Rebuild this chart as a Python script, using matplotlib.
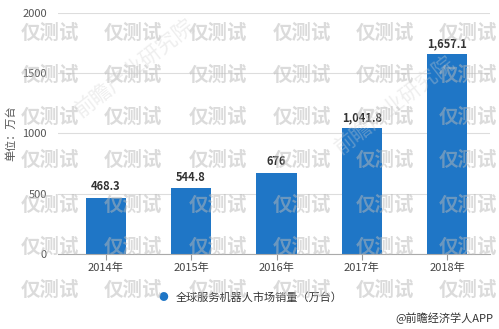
import matplotlib
matplotlib.use("Agg")
import matplotlib.pyplot as plt

plt.rcParams['font.family'] = ['Noto Sans CJK SC', 'DejaVu Sans']

years = ['2014年', '2015年', '2016年', '2017年', '2018年']
sales = [468.3, 544.8, 676, 1041.8, 1657.1]
value_labels = ['468.3', '544.8', '676', '1,041.8', '1,657.1']
yticks = [0, 500, 1000, 1500, 2000]

blue = '#1f76c6'

fig = plt.figure(figsize=(4.99, 3.29), dpi=100)
ax = fig.add_axes([0.116, 0.228, 0.866, 0.7325])

x = list(range(len(years)))
ax.bar(x, sales, width=0.47, color=blue, zorder=2)
for xi, v, lab in zip(x, sales, value_labels):
    ax.text(xi, v + 35, lab, ha='center', va='bottom', fontsize=8,
            fontweight='bold', color='#333333', zorder=3)

ax.set_xlim(-0.56, 4.5)
ax.set_ylim(0, 2000)
ax.set_yticks(yticks)
ax.set_yticklabels([str(t) for t in yticks], fontsize=8, color='#555555')
ax.set_xticks(x)
ax.set_xticklabels(years, fontsize=8, color='#444444')
ax.tick_params(axis='y', length=0, pad=8)
ax.tick_params(axis='x', length=4, color='#999999', pad=2)
ax.grid(axis='y', color='#dddddd', linewidth=0.8, zorder=0)
for s in ['top', 'right', 'left']:
    ax.spines[s].set_visible(False)
ax.spines['bottom'].set_color('#aaaaaa')
ax.set_ylabel('单位：万台', fontsize=8, color='#555555', labelpad=4)

# legend
fig.text(0.327, 0.097, '●', fontsize=7, color=blue, ha='center', va='center')
fig.text(0.352, 0.097, '全球服务机器人市场销量（万台）', fontsize=8,
         color='#333333', ha='left', va='center')
fig.text(0.988, 0.033, '@前瞻经济学人APP', fontsize=8, color='#333333',
         ha='right', va='center')

# watermarks
wm_rows = [33, 75, 117, 160, 205, 247, 290]
wm_cols = [50, 133, 218, 302, 385, 468]
for yy in wm_rows:
    for xx in wm_cols:
        fig.text(xx / 499, 1 - yy / 329, '仅测试', fontsize=14, fontweight='bold',
                 color='#b8b8b8', alpha=0.5, ha='center', va='center', zorder=10)
for cx, cy in [(135, 68), (395, 105)]:
    fig.text(cx / 499, 1 - cy / 329, '前瞻产业研究院', fontsize=15,
             color='#d0d0d0', alpha=0.35, rotation=38, ha='center', va='center',
             zorder=10)

fig.savefig('out.png', dpi=100)
